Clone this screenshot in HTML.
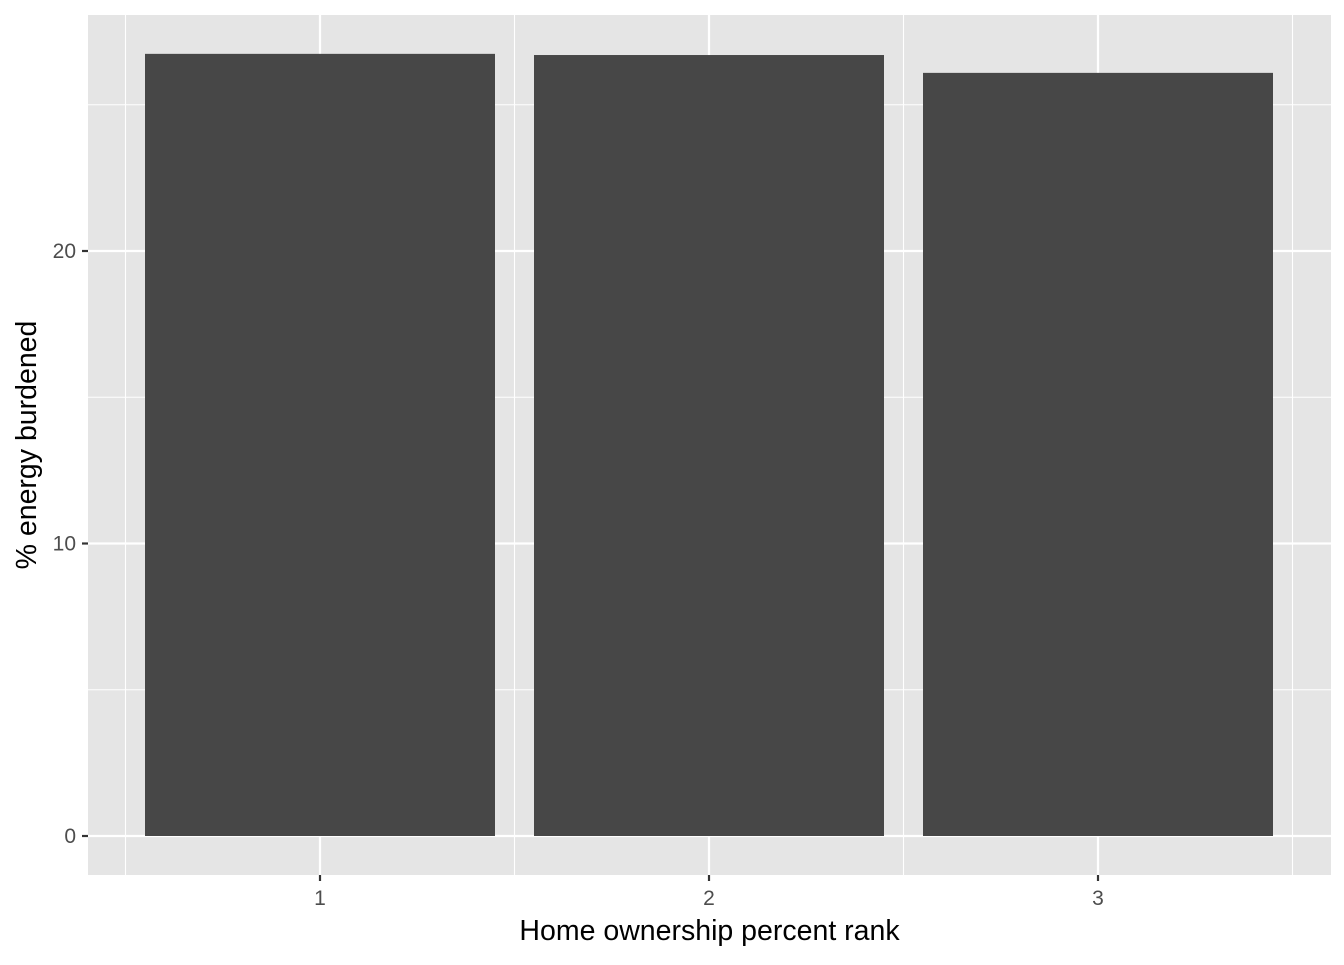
<!DOCTYPE html>
<html><head><meta charset="utf-8"><style>
body{margin:0;background:#fff;font-family:"Liberation Sans",Arial,sans-serif}
</style></head><body>
<svg id="chart" width="1344" height="960" xmlns="http://www.w3.org/2000/svg"></svg>
<script>
const categories = ["1","2","3"];
const values = [26.74, 26.70, 26.09];
const yTicks = [0,10,20];
const yMinor = [5,15,25];
const xTitle = "Home ownership percent rank";
const yTitle = "% energy burdened";

const svg = document.getElementById('chart');
const NS = "http://www.w3.org/2000/svg";
const P = {l:88, r:1331, t:15, b:875};
const y = v => 836 - v*29.25;
const x = i => 320 + i*389;
const bw = 350;
function mk(tag, attrs, parent){const e=document.createElementNS(NS,tag);for(const k in attrs)e.setAttribute(k,attrs[k]);(parent||svg).appendChild(e);return e;}

const panel = mk('rect',{x:P.l,y:P.t,width:P.r-P.l,height:P.b-P.t,fill:'#e5e5e5'});



yMinor.forEach(v=>{const l=mk('line',{x1:P.l,x2:P.r,y1:y(v),y2:y(v),stroke:'#fff','stroke-width':1.1});

});
for(let i=-0.5;i<categories.length;i++){const l=mk('line',{x1:x(i),x2:x(i),y1:P.t,y2:P.b,stroke:'#fff','stroke-width':1.1});

}
yTicks.forEach(v=>{const l=mk('line',{x1:P.l,x2:P.r,y1:y(v),y2:y(v),stroke:'#fff','stroke-width':2.2});


const t=mk('line',{x1:P.l-6,x2:P.l,y1:y(v),y2:y(v),stroke:'#333','stroke-width':2.2});


const tx=mk('text',{x:P.l-12,y:y(v)+7,'text-anchor':'end','font-size':21,fill:'#4d4d4d'});tx.textContent=v;

});
categories.forEach((c,i)=>{const l=mk('line',{x1:x(i),x2:x(i),y1:P.t,y2:P.b,stroke:'#fff','stroke-width':2.2});

});
categories.forEach((c,i)=>{const b=mk('rect',{x:x(i)-bw/2,y:y(values[i]),width:bw,height:y(0)-y(values[i]),fill:'#474747'});


const t=mk('line',{x1:x(i),x2:x(i),y1:P.b,y2:P.b+6,stroke:'#333','stroke-width':2.2});


const tx=mk('text',{x:x(i),y:P.b+30,'text-anchor':'middle','font-size':21,fill:'#4d4d4d'});tx.textContent=c;

});
const xt=mk('text',{x:(P.l+P.r)/2,y:940,'text-anchor':'middle','font-size':28.5,fill:'#000'});xt.textContent=xTitle;


const yt=mk('text',{x:0,y:0,'text-anchor':'middle','font-size':28.5,fill:'#000',transform:`translate(36,${(P.t+P.b)/2}) rotate(-90)`});yt.textContent=yTitle;


</script>
</body></html>
